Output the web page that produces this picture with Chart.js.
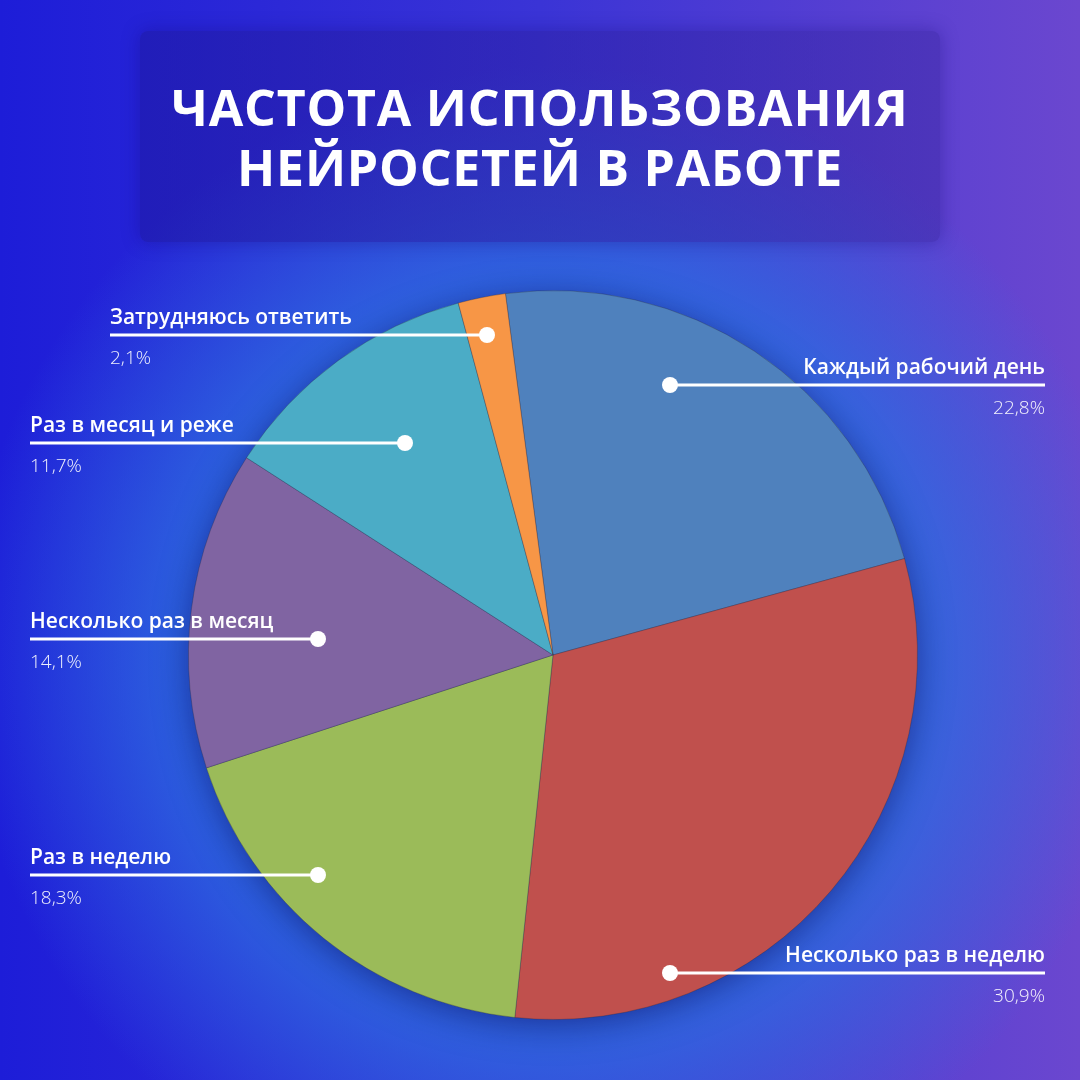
<!DOCTYPE html>
<html lang="ru">
<head>
<meta charset="utf-8">
<script src="https://cdn.jsdelivr.net/npm/chart.js@4.4.1/dist/chart.umd.min.js"></script>
<style>
  html, body { margin: 0; padding: 0; }
  body {
    width: 1080px; height: 1080px; overflow: hidden; position: relative;
    background:
      radial-gradient(circle at 553px 655px, rgba(45,125,225,0.95) 0px, rgba(45,110,225,0.8) 375px, rgba(45,90,220,0) 590px),
      linear-gradient(90deg, #1d1dd8 0%, #3a34d6 50%, #6b47cf 100%);
  }
  #titleBox {
    position: absolute; left: 140px; top: 31px; width: 800px; height: 211px;
    border-radius: 8px;
    background: linear-gradient(90deg, rgba(30,25,165,0.6), rgba(60,40,165,0.5));
    box-shadow: 0 0 18px rgba(20,10,120,0.35);
    display: flex; align-items: center; justify-content: center;
    color: #fff; text-align: center;
    font-family: "Open Sans", sans-serif; font-weight: 700;
    font-size: 50px; line-height: 60px; letter-spacing: 0.8px;
  }
  #chart { position: absolute; left: 0; top: 0; }
</style>
</head>
<body>
<div id="titleBox">ЧАСТОТА ИСПОЛЬЗОВАНИЯ<br>НЕЙРОСЕТЕЙ В РАБОТЕ</div>
<canvas id="chart" width="1080" height="1080"></canvas>
<script>
// data
const categories = [
  'Каждый рабочий день',
  'Несколько раз в неделю',
  'Раз в неделю',
  'Несколько раз в месяц',
  'Раз в месяц и реже',
  'Затрудняюсь ответить'
];
const shares = [22.8, 30.9, 18.3, 14.1, 11.7, 2.1];
const sliceColors = ['#4F81BD', '#C0504D', '#9BBB59', '#8064A2', '#4BACC6', '#F79646'];

// callout layout: which side the text sits, text edge x, leader line y, dot x
const callouts = [
  { side: 'right', edge: 1045, lineY: 385, dotX: 670 },
  { side: 'right', edge: 1045, lineY: 973, dotX: 670 },
  { side: 'left',  edge: 30,   lineY: 875, dotX: 318 },
  { side: 'left',  edge: 30,   lineY: 639, dotX: 318 },
  { side: 'left',  edge: 30,   lineY: 443, dotX: 405 },
  { side: 'left',  edge: 110,  lineY: 335, dotX: 487 }
];

function fmtPct(v) {
  return v.toFixed(1).replace('.', ',') + '%';
}

// soft shadow disc behind the pie
const pieShadow = {
  id: 'pieShadow',
  beforeDatasetsDraw(chart) {
    const arc = chart.getDatasetMeta(0).data[0];
    if (!arc) return;
    const ctx = chart.ctx;
    ctx.save();
    ctx.shadowColor = 'rgba(10,10,90,0.55)';
    ctx.shadowBlur = 35;
    ctx.shadowOffsetY = 6;
    ctx.fillStyle = '#4a6fb8';
    ctx.beginPath();
    ctx.arc(arc.x, arc.y, arc.outerRadius - 1, 0, Math.PI * 2);
    ctx.fill();
    ctx.restore();
  }
};

// labels with leader lines and dots
const calloutLabels = {
  id: 'calloutLabels',
  afterDatasetsDraw(chart) {
    const ctx = chart.ctx;
    ctx.save();
    categories.forEach((name, i) => {
      const c = callouts[i];
      ctx.strokeStyle = '#ffffff';
      ctx.lineWidth = 3;
      ctx.beginPath();
      ctx.moveTo(c.edge, c.lineY);
      ctx.lineTo(c.dotX, c.lineY);
      ctx.stroke();

      ctx.fillStyle = '#ffffff';
      ctx.beginPath();
      ctx.arc(c.dotX, c.lineY, 8, 0, Math.PI * 2);
      ctx.fill();

      ctx.textAlign = c.side === 'right' ? 'right' : 'left';
      ctx.textBaseline = 'alphabetic';
      ctx.font = '600 21px "Open Sans", sans-serif';
      ctx.fillStyle = '#ffffff';
      ctx.fillText(name, c.edge, c.lineY - 11);

      ctx.font = '300 19px "Open Sans", sans-serif';
      ctx.fillStyle = 'rgba(255,255,255,0.92)';
      ctx.fillText(fmtPct(shares[i]), c.edge, c.lineY + 29);
    });
    ctx.restore();
  }
};

new Chart(document.getElementById('chart').getContext('2d'), {
  type: 'pie',
  data: {
    labels: categories,
    datasets: [{
      data: shares,
      backgroundColor: sliceColors,
      borderColor: 'rgba(40,40,60,0.3)',
      borderWidth: 1
    }]
  },
  options: {
    responsive: false,
    animation: false,
    rotation: -7.5,
    layout: { padding: { top: 290, bottom: 60, left: 188, right: 162 } },
    plugins: {
      legend: { display: false },
      tooltip: { enabled: false }
    }
  },
  plugins: [pieShadow, calloutLabels]
});
</script>
</body>
</html>
